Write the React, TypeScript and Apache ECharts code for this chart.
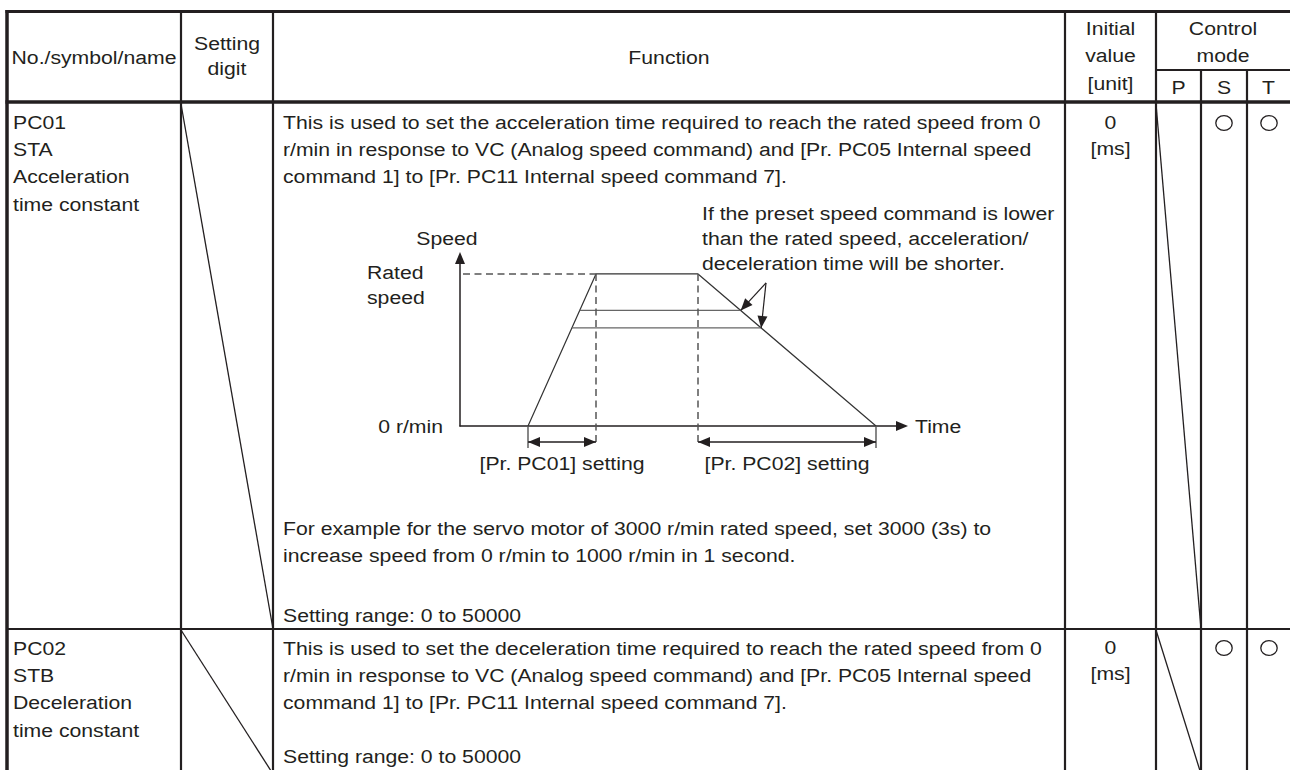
import React, { useEffect, useRef } from "react";
import * as echarts from "echarts";

// ---------- diagram values (time in arbitrary units, speed in % of rated) ----------
const profileTime = [6.8, 13.6, 23.8, 41.6];
const profileSpeed = [0, 100, 100, 0];
const presetSpeeds = [76, 64.5];
const presetStart = [11.97, 11.19];
const presetEnd = [28.07, 30.12];
const ratedSpeed = 100;
const guideBottom = -11.2;
const tickBottom = -14.5;
const dimLevel = -10.5;
const timeMax = 44.2;
const speedMax = 110.5;
const calloutApex = [30.6, 94.1];

// ---------- table texts ----------
const headNo = "No./symbol/name";
const headDigit = ["Setting", "digit"];
const headFunction = "Function";
const headInitial = ["Initial", "value", "[unit]"];
const headControl = ["Control", "mode"];
const headModes = ["P", "S", "T"];
const row1Name = ["PC01", "STA", "Acceleration", "time constant"];
const row2Name = ["PC02", "STB", "Deceleration", "time constant"];
const row1Func = [
  "This is used to set the acceleration time required to reach the rated speed from 0",
  "r/min in response to VC (Analog speed command) and [Pr. PC05 Internal speed",
  "command 1] to [Pr. PC11 Internal speed command 7].",
];
const row1Note = [
  "For example for the servo motor of 3000 r/min rated speed, set 3000 (3s) to",
  "increase speed from 0 r/min to 1000 r/min in 1 second.",
];
const row2Func = [
  "This is used to set the deceleration time required to reach the rated speed from 0",
  "r/min in response to VC (Analog speed command) and [Pr. PC05 Internal speed",
  "command 1] to [Pr. PC11 Internal speed command 7].",
];
const settingRange = "Setting range: 0 to 50000";
const initialValue = ["0", "[ms]"];
const annotation = [
  "If the preset speed command is lower",
  "than the rated speed, acceleration/",
  "deceleration time will be shorter.",
];
const diagramLabels = {
  speed: "Speed",
  rated: ["Rated", "speed"],
  zero: "0 r/min",
  time: "Time",
  pc01: "[Pr. PC01] setting",
  pc02: "[Pr. PC02] setting",
};

const FONT = '"Liberation Sans", Arial, Helvetica, sans-serif';
const FS = 19;
const SX = 1.116;
const INK = "#231f20";
const GRAY = "#555555";

function txt(text: string, x: number, y: number, align: string = "left") {
  return {
    type: "text",
    x,
    y,
    scaleX: SX,
    silent: true,
    style: {
      text,
      fontSize: FS,
      fontFamily: FONT,
      font: `${FS}px ${FONT}`,
      fill: INK,
      align,
      textAlign: align,
      verticalAlign: "middle",
      textVerticalAlign: "middle",
    },
  };
}

function ln(x1: number, y1: number, x2: number, y2: number, w: number) {
  return {
    type: "line",
    silent: true,
    shape: { x1, y1, x2, y2 },
    style: { stroke: INK, lineWidth: w },
  };
}

function ring(cx: number, cy: number) {
  return {
    type: "ellipse",
    silent: true,
    shape: { cx, cy, rx: 8.2, ry: 7.4 },
    style: { fill: "none", stroke: INK, lineWidth: 1.3 },
  };
}

function buildGraphics() {
  const g: any[] = [];
  // table rules
  const R = 1292;
  const B = 774;
  g.push(ln(5.5, 11.5, R, 11.5, 3));
  g.push(ln(7, 10, 7, B, 3.5));
  g.push(ln(5.5, 102, R, 102, 3.5));
  [181, 273, 1065, 1156].forEach((x) => g.push(ln(x, 11, x, B, 2.2)));
  [1201, 1247].forEach((x) => g.push(ln(x, 70, x, B, 2.2)));
  g.push(ln(1156, 70, R, 70, 2));
  g.push(ln(7, 629, R, 629, 2.2));
  g.push(ln(181, 104, 273, 629, 1.3));
  g.push(ln(181, 630, 273, B, 1.3));
  g.push(ln(1156, 104, 1201, 629, 1.3));
  g.push(ln(1156, 630, 1201, B, 1.3));

  // header texts
  g.push(txt(headNo, 94, 57, "center"));
  g.push(txt(headDigit[0], 227, 43, "center"));
  g.push(txt(headDigit[1], 227, 68, "center"));
  g.push(txt(headFunction, 669, 57, "center"));
  headInitial.forEach((t, i) => g.push(txt(t, 1110.5, 28 + i * 27.5, "center")));
  headControl.forEach((t, i) => g.push(txt(t, 1223, 28 + i * 27, "center")));
  [1178.5, 1224, 1268.5].forEach((x, i) => g.push(txt(headModes[i], x, 87, "center")));

  // row 1
  const LS = 27.3;
  row1Name.forEach((t, i) => g.push(txt(t, 13, 122 + i * LS)));
  row1Func.forEach((t, i) => g.push(txt(t, 283, 122 + i * LS)));
  row1Note.forEach((t, i) => g.push(txt(t, 283, 528 + i * LS)));
  g.push(txt(settingRange, 283, 615));
  initialValue.forEach((t, i) => g.push(txt(t, 1110.5, 122 + i * 26, "center")));
  g.push(ring(1224, 123));
  g.push(ring(1269, 123));

  // row 2
  row2Name.forEach((t, i) => g.push(txt(t, 13, 648 + i * LS)));
  row2Func.forEach((t, i) => g.push(txt(t, 283, 648 + i * LS)));
  g.push(txt(settingRange, 283, 756));
  initialValue.forEach((t, i) => g.push(txt(t, 1110.5, 647 + i * 26, "center")));
  g.push(ring(1224, 648));
  g.push(ring(1269, 648));

  // diagram labels
  g.push(txt(diagramLabels.speed, 447, 238, "center"));
  g.push(txt(diagramLabels.rated[0], 367, 272));
  g.push(txt(diagramLabels.rated[1], 367, 297));
  g.push(txt(diagramLabels.zero, 443, 426, "right"));
  g.push(txt(diagramLabels.time, 915, 426));
  g.push(txt(diagramLabels.pc01, 562, 463, "center"));
  g.push(txt(diagramLabels.pc02, 787, 463, "center"));
  annotation.forEach((t, i) => g.push(txt(t, 702, 213 + i * 25)));
  return g;
}

function lineSeries(data: number[][], color: string, width: number, dash?: number[]) {
  return {
    type: "line",
    symbol: "none",
    silent: true,
    clip: false,
    z: 3,
    lineStyle: { color, width, type: dash ? dash : "solid" },
    data,
  };
}

const arrowData = [
  [profileTime[0], dimLevel, profileTime[1], dimLevel, 1],
  [profileTime[2], dimLevel, profileTime[3], dimLevel, 1],
  [calloutApex[0], calloutApex[1], presetEnd[0], presetSpeeds[0], 0],
  [calloutApex[0], calloutApex[1], presetEnd[1], presetSpeeds[1], 0],
];

function headPts(tip: number[], from: number[], L: number, W: number) {
  const dx = tip[0] - from[0];
  const dy = tip[1] - from[1];
  const len = Math.hypot(dx, dy) || 1;
  const ux = dx / len;
  const uy = dy / len;
  const bx = tip[0] - ux * L;
  const by = tip[1] - uy * L;
  return [
    [tip[0], tip[1]],
    [bx - uy * W, by + ux * W],
    [bx + uy * W, by - ux * W],
  ];
}

export default function App() {
  const ref = useRef<HTMLDivElement>(null);
  useEffect(() => {
    document.body.style.margin = "0";
    if (!ref.current) return;
    const chart = echarts.init(ref.current, undefined, { renderer: "svg" });
    const series: any[] = [
      lineSeries(profileTime.map((t, i) => [t, profileSpeed[i]]), "#333333", 1.2),
      lineSeries(
        [
          [presetStart[0], presetSpeeds[0]],
          [presetEnd[0], presetSpeeds[0]],
        ],
        "#666666",
        1.3
      ),
      lineSeries(
        [
          [presetStart[1], presetSpeeds[1]],
          [presetEnd[1], presetSpeeds[1]],
        ],
        "#666666",
        1.3
      ),
      lineSeries(
        [
          [0.3, ratedSpeed],
          [profileTime[1], ratedSpeed],
        ],
        GRAY,
        1.5,
        [7, 4.5]
      ),
      lineSeries(
        [
          [profileTime[1], ratedSpeed],
          [profileTime[1], guideBottom],
        ],
        GRAY,
        1.5,
        [7, 4.5]
      ),
      lineSeries(
        [
          [profileTime[2], ratedSpeed],
          [profileTime[2], guideBottom],
        ],
        GRAY,
        1.5,
        [7, 4.5]
      ),
      lineSeries(
        [
          [profileTime[0], 0],
          [profileTime[0], tickBottom],
        ],
        GRAY,
        1.4
      ),
      lineSeries(
        [
          [profileTime[3], 0],
          [profileTime[3], tickBottom],
        ],
        GRAY,
        1.4
      ),
      {
        type: "custom",
        silent: true,
        clip: false,
        z: 4,
        data: arrowData,
        encode: { x: [0, 2], y: [1, 3] },
        renderItem: (params: any, api: any) => {
          const a = api.coord([api.value(0), api.value(1)]);
          const b = api.coord([api.value(2), api.value(3)]);
          const both = api.value(4) === 1;
          const children: any[] = [
            {
              type: "line",
              shape: { x1: a[0], y1: a[1], x2: b[0], y2: b[1] },
              style: { stroke: INK, lineWidth: both ? 1.6 : 1.2 },
            },
            {
              type: "polygon",
              shape: { points: headPts(b, a, 12, 5) },
              style: { fill: INK },
            },
          ];
          if (both) {
            children.push({
              type: "polygon",
              shape: { points: headPts(a, b, 12, 5) },
              style: { fill: INK },
            });
          }
          return { type: "group", children };
        },
      },
    ];
    const axisCommon = {
      type: "value",
      min: 0,
      axisLine: {
        show: true,
        onZero: true,
        symbol: ["none", "triangle"],
        symbolSize: [10, 12],
        lineStyle: { color: INK, width: 1.5 },
      },
      axisTick: { show: false },
      axisLabel: { show: false },
      splitLine: { show: false },
    };
    chart.setOption({
      animation: false,
      backgroundColor: "#ffffff",
      grid: {
        left: 460,
        top: 258,
        width: 442,
        height: 168,
        containLabel: false,
        outerBoundsMode: "none",
      },
      xAxis: { ...axisCommon, max: timeMax },
      yAxis: { ...axisCommon, max: speedMax },
      series,
      graphic: { elements: buildGraphics() },
    });
    return () => chart.dispose();
  }, []);
  return <div ref={ref} style={{ width: 1290, height: 770 }} />;
}
